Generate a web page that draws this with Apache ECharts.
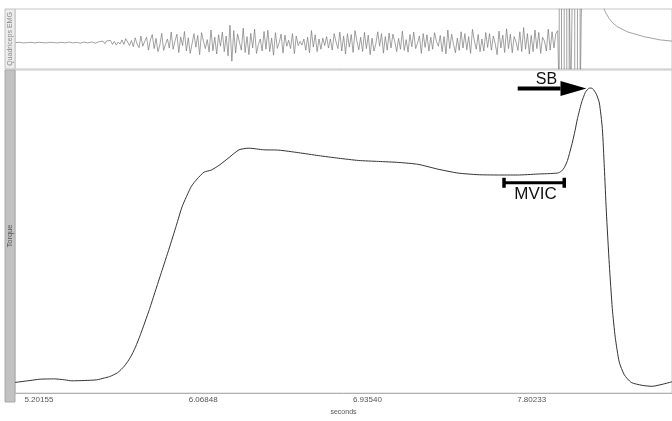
<!DOCTYPE html>
<html>
<head>
<meta charset="utf-8">
<script src="https://cdn.jsdelivr.net/npm/echarts@6/dist/echarts.min.js"></script>
<style>
  html, body { margin: 0; padding: 0; background: #fff; }
  #main { width: 672px; height: 421px; }
</style>
</head>
<body>
<div id="main"></div>
<script>
// time range shown (seconds) and the labelled ticks
var tMin = 5.0755, tMax = 8.5431;
var tickLabels = [5.20155, 6.06848, 6.93540, 7.80233];

// torque trace (arbitrary units, 0..100)
var torqueTime = [5.0755, 5.1017, 5.1543, 5.2068, 5.2856, 5.3382, 5.3749, 5.4432, 5.5063, 5.5483,
  5.5746, 5.6166, 5.6534, 5.6849, 5.7112, 5.7375, 5.7848, 5.8163, 5.8478, 5.8899,
  5.9266, 5.9582, 6.0054, 6.0370, 6.0737, 6.1105, 6.1526, 6.2051, 6.2576, 6.3101,
  6.3890, 6.4677, 6.5729, 6.6779, 6.7830, 6.8881, 6.9932, 7.0982, 7.2034, 7.3084,
  7.4135, 7.5186, 7.6237, 7.7288, 7.8338, 7.9389, 7.9599, 7.9757, 7.9915, 8.0125,
  8.0283, 8.0440, 8.0651, 8.0861, 8.1071, 8.1229, 8.1439, 8.1596, 8.1754, 8.1859,
  8.1965, 8.2122, 8.2280, 8.2437, 8.2647, 8.2910, 8.3278, 8.3856, 8.4381, 8.4907, 8.5431];
var torqueValue = [3.3, 3.5, 3.9, 4.3, 4.4, 4.1, 3.8, 3.9, 4.1, 4.7,
  5.1, 6.3, 8.4, 11.1, 14.2, 18.1, 25.9, 31.6, 37.3, 44.9,
  51.8, 57.8, 63.9, 66.3, 68.4, 69.0, 70.5, 72.9, 75.3, 75.8,
  75.3, 75.2, 74.4, 73.5, 72.7, 72.0, 71.7, 71.4, 70.8, 69.3,
  68.1, 67.6, 67.5, 67.5, 67.8, 68.1, 68.7, 69.9, 72.0, 76.5,
  80.4, 84.9, 89.8, 93.1, 94.4, 94.3, 92.5, 89.8, 81.9, 69.9,
  56.3, 39.8, 26.2, 17.2, 9.6, 5.7, 3.3, 2.4, 2.1, 2.7, 3.5];

// quadriceps EMG trace (mV); repeated times are the clipped, saturated part
var emgTime = [5.08, 5.10, 5.12, 5.14, 5.16, 5.18, 5.20, 5.22, 5.24, 5.26,
  5.28, 5.30, 5.32, 5.34, 5.36, 5.38, 5.40, 5.42, 5.44, 5.46, 5.48, 5.50, 5.52, 5.53,
  5.54, 5.55, 5.56, 5.57, 5.58, 5.59, 5.60, 5.61, 5.62, 5.63,
  5.64, 5.65, 5.66, 5.67, 5.68, 5.69, 5.70, 5.71, 5.72, 5.73,
  5.74, 5.75, 5.76, 5.77, 5.78, 5.79, 5.80, 5.81, 5.82, 5.83,
  5.84, 5.85, 5.86, 5.87, 5.88, 5.89, 5.90, 5.91, 5.92, 5.93,
  5.94, 5.95, 5.96, 5.97, 5.98, 5.99, 6.00, 6.01, 6.02, 6.03,
  6.04, 6.05, 6.06, 6.07, 6.08, 6.09, 6.10, 6.11, 6.12, 6.13,
  6.14, 6.15, 6.16, 6.17, 6.18, 6.19, 6.20, 6.21, 6.22, 6.23,
  6.24, 6.25, 6.26, 6.27, 6.28, 6.29, 6.30, 6.31, 6.32, 6.33,
  6.34, 6.35, 6.36, 6.37, 6.38, 6.39, 6.40, 6.41, 6.42, 6.43,
  6.44, 6.45, 6.46, 6.47, 6.48, 6.49, 6.50, 6.51, 6.52, 6.53,
  6.54, 6.55, 6.56, 6.57, 6.58, 6.59, 6.60, 6.61, 6.62, 6.63,
  6.64, 6.65, 6.66, 6.67, 6.68, 6.69, 6.70, 6.71, 6.72, 6.73,
  6.74, 6.75, 6.76, 6.77, 6.78, 6.79, 6.80, 6.81, 6.82, 6.83,
  6.84, 6.85, 6.86, 6.87, 6.88, 6.89, 6.90, 6.91, 6.92, 6.93,
  6.94, 6.95, 6.96, 6.97, 6.98, 6.99, 7.00, 7.01, 7.02, 7.03,
  7.04, 7.05, 7.06, 7.07, 7.08, 7.09, 7.10, 7.11, 7.12, 7.13,
  7.14, 7.15, 7.16, 7.17, 7.18, 7.19, 7.20, 7.21, 7.22, 7.23,
  7.24, 7.25, 7.26, 7.27, 7.28, 7.29, 7.30, 7.31, 7.32, 7.33,
  7.34, 7.35, 7.36, 7.37, 7.38, 7.39, 7.40, 7.41, 7.42, 7.43,
  7.44, 7.45, 7.46, 7.47, 7.48, 7.49, 7.50, 7.51, 7.52, 7.53,
  7.54, 7.55, 7.56, 7.57, 7.58, 7.59, 7.60, 7.61, 7.62, 7.63,
  7.64, 7.65, 7.66, 7.67, 7.68, 7.69, 7.70, 7.71, 7.72, 7.73,
  7.74, 7.75, 7.76, 7.77, 7.78, 7.79, 7.80, 7.81, 7.82, 7.83,
  7.84, 7.85, 7.86, 7.87, 7.88, 7.89, 7.90, 7.91, 7.92, 7.93, 7.94,
  7.9478, 7.9478, 7.9599, 7.9599, 7.9741, 7.9741, 7.9877, 7.9877, 8.0004, 8.0004,
  8.0088, 8.0088, 8.0177, 8.0177, 8.0298, 8.0298, 8.0440, 8.0440, 8.0582, 8.0582,
  8.0666, 8.0666, 8.1800,
  8.1843, 8.1938, 8.2106, 8.2280, 8.2542, 8.3068, 8.3945, 8.4802, 8.5431];
var emgValue = [0.00, 0.01, -0.01, 0.00, 0.01, -0.01, 0.01, 0.00, -0.01, 0.01,
  0.00, -0.01, 0.01, -0.01, 0.02, -0.01, 0.01, -0.02, 0.02, -0.01, 0.02, -0.02, 0.03, -0.03,
  0.05, -0.04, 0.06, 0.01, 0.07, -0.06, 0.04, -0.08, 0.02, -0.05,
  0.09, -0.06, 0.13, 0.02, -0.10, 0.07, -0.14, 0.16, -0.05, -0.17,
  0.22, -0.12, 0.04, 0.18, -0.25, 0.09, 0.27, -0.20, 0.14, -0.30,
  -0.08, 0.31, -0.26, -0.05, 0.12, -0.18, 0.35, -0.22, 0.05, 0.28,
  -0.33, 0.19, -0.10, 0.37, -0.28, 0.16, -0.36, -0.04, 0.30, -0.15,
  0.24, -0.40, 0.33, 0.06, -0.20, 0.10, -0.31, 0.42, -0.27, 0.18,
  -0.38, 0.26, -0.12, 0.35, -0.30, 0.22, -0.44, 0.58, -0.62, 0.40,
  -0.35, 0.29, 0.02, -0.25, 0.48, -0.33, 0.20, -0.40, 0.31, -0.18,
  0.45, -0.36, -0.06, 0.12, -0.28, 0.37, -0.22, 0.41, -0.30, 0.15,
  -0.42, 0.33, -0.19, 0.00, 0.28, -0.35, 0.25, -0.12, 0.08, -0.20,
  0.30, -0.37, 0.22, -0.10, 0.04, -0.08, 0.12, -0.25, 0.18, -0.34,
  0.40, -0.15, 0.26, -0.30, 0.12, -0.22, 0.15, -0.10, 0.20, -0.18,
  0.12, -0.25, 0.30, 0.02, -0.20, 0.35, -0.28, 0.22, -0.38, 0.30,
  -0.15, 0.27, -0.33, 0.40, 0.05, -0.24, 0.18, -0.30, 0.34, -0.20,
  0.25, -0.40, 0.15, -0.28, -0.04, 0.36, -0.12, 0.30, -0.35, 0.20,
  -0.25, 0.32, -0.18, 0.28, 0.03, -0.30, 0.14, -0.22, 0.38, -0.26,
  0.10, -0.32, 0.27, -0.14, 0.35, -0.20, -0.02, 0.22, -0.36, 0.30,
  -0.16, 0.26, -0.28, 0.18, -0.22, 0.33, 0.04, -0.12, 0.24, -0.30,
  0.20, -0.38, 0.42, -0.20, 0.28, -0.05, -0.34, 0.15, -0.26, 0.36,
  -0.18, 0.30, -0.24, 0.20, -0.36, 0.44, 0.06, -0.22, 0.27, -0.30,
  0.12, -0.28, 0.34, -0.16, 0.30, -0.25, 0.22, -0.03, -0.40, 0.38,
  -0.18, 0.25, -0.33, 0.46, -0.20, 0.28, -0.34, 0.20, 0.02, -0.26,
  0.36, -0.30, 0.50, -0.22, 0.30, -0.38, 0.24, -0.30, 0.42, -0.20,
  0.34, -0.36, 0.18, 0.05, -0.28, 0.45, -0.25, 0.36, -0.18, 0.30, 0.40,
  -2, 2, 2, -2, -2, 2, 2, -2, -2, 2,
  2, -2, -2, 2, 2, -2, -2, 2, 2, -2,
  -2, 2, 2,
  1.12, 0.99, 0.81, 0.67, 0.53, 0.36, 0.20, 0.09, 0.05];

// annotations in data coordinates [time, torque]
var sbArrow = [[7.7287, 94.3], [7.9547, 94.3], [8.0913, 94.3]];
var sbLabel = [7.8801, 97.0];
var mvicBar = [[7.6552, 65.1], [7.9757, 65.1]];
var mvicLabel = [7.8233, 61.4];

function pairs(xs, ys) {
  return xs.map(function (x, i) { return [x, ys[i]]; });
}

var font = 'Liberation Sans, Arial, sans-serif';
var chart = echarts.init(document.getElementById('main'));

chart.setOption({
  animation: false,
  grid: [
    {left: 15, top: 9, width: 660, height: 60, show: true, borderColor: '#c6c6c6', borderWidth: 1},
    {left: 15, top: 70, width: 660, height: 332, show: true, borderColor: '#c6c6c6', borderWidth: 1}
  ],
  xAxis: [
    {type: 'value', gridIndex: 0, min: tMin, max: tMax, show: false},
    {
      type: 'value', gridIndex: 1, min: tMin, max: tMax,
      name: 'seconds', nameLocation: 'middle', nameGap: 12,
      nameTextStyle: {fontFamily: font, fontSize: 7, color: '#555'},
      axisLine: {show: true, lineStyle: {color: '#b2b2b2', width: 1}},
      axisTick: {show: false},
      splitLine: {show: false},
      axisLabel: {
        customValues: tickLabels,
        formatter: function (v) { return v.toFixed(5); },
        fontFamily: font, fontSize: 8, color: '#555', margin: 3
      }
    }
  ],
  yAxis: [
    {type: 'value', gridIndex: 0, min: -0.88, max: 1.12, show: false},
    {type: 'value', gridIndex: 1, min: 0, max: 100, show: false}
  ],
  series: [
    {
      type: 'line', xAxisIndex: 0, yAxisIndex: 0, data: pairs(emgTime, emgValue),
      showSymbol: false, clip: true,
      lineStyle: {color: '#7a7a7a', width: 0.7}
    },
    {
      type: 'line', xAxisIndex: 1, yAxisIndex: 1, data: pairs(torqueTime, torqueValue),
      showSymbol: false, smooth: 0.2,
      lineStyle: {color: '#333', width: 1}
    }
  ]
});

function px(p) { return chart.convertToPixel({gridIndex: 1}, p); }

var a0 = px(sbArrow[0]), a1 = px(sbArrow[1]), a2 = px(sbArrow[2]);
var sl = px(sbLabel);
var m0 = px(mvicBar[0]), m1 = px(mvicBar[1]);
var ml = px(mvicLabel);

chart.setOption({
  graphic: [
    // side strips with the channel names
    {type: 'rect', shape: {x: 5, y: 9, width: 10, height: 60},
      style: {fill: '#ececec', stroke: '#c2c2c2', lineWidth: 1}},
    {type: 'text', x: 10, y: 39, rotation: Math.PI / 2,
      style: {text: 'Quadriceps EMG', font: '7px ' + font, fill: '#8a8a8a', align: 'center', verticalAlign: 'middle'}},
    {type: 'rect', shape: {x: 5, y: 70, width: 10, height: 332},
      style: {fill: '#c2c2c2', stroke: '#a8a8a8', lineWidth: 1}},
    {type: 'text', x: 10, y: 236, rotation: Math.PI / 2,
      style: {text: 'Torque', font: '7.5px ' + font, fill: '#555', align: 'center', verticalAlign: 'middle'}},
    // SB arrow
    {type: 'rect', shape: {x: a0[0], y: a0[1] - 2, width: a1[0] - a0[0], height: 4}, style: {fill: '#000'}},
    {type: 'polygon', shape: {points: [[a1[0], a1[1] - 7.5], [a2[0], a2[1]], [a1[0], a1[1] + 7.5]]}, style: {fill: '#000'}},
    {type: 'text', x: sl[0], y: sl[1],
      style: {text: 'SB', font: '16px ' + font, fill: '#111', align: 'center', verticalAlign: 'middle'}},
    // MVIC window
    {type: 'rect', shape: {x: m0[0], y: m0[1] - 1.5, width: m1[0] - m0[0], height: 3}, style: {fill: '#000'}},
    {type: 'rect', shape: {x: m0[0] - 1.5, y: m0[1] - 5, width: 3.5, height: 10}, style: {fill: '#000'}},
    {type: 'rect', shape: {x: m1[0] - 2, y: m1[1] - 5, width: 3.5, height: 10}, style: {fill: '#000'}},
    {type: 'text', x: ml[0], y: ml[1],
      style: {text: 'MVIC', font: '17px ' + font, fill: '#111', align: 'center', verticalAlign: 'middle'}}
  ]
});
</script>
</body>
</html>
